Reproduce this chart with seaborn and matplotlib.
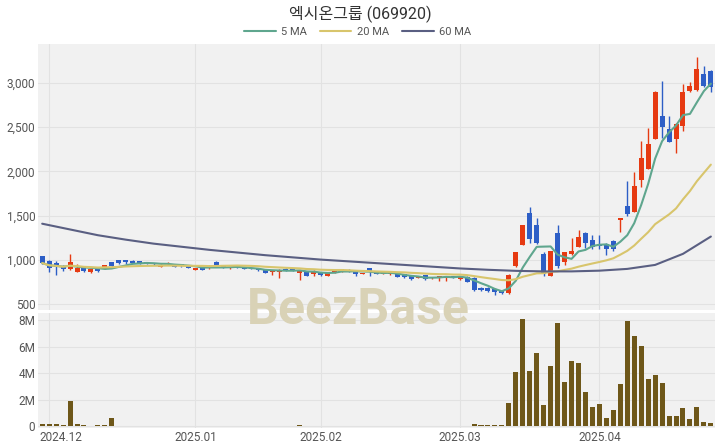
import numpy as np
import pandas as pd
import matplotlib
matplotlib.use("Agg")
import matplotlib.pyplot as plt
import matplotlib.transforms as mtransforms
import seaborn as sns
from matplotlib.ticker import FuncFormatter

# =====================================================
# DATA
# =====================================================

title = "엑시온그룹 (069920)"

holidays = ["2024-12-25", "2025-01-01", "2025-01-27", "2025-01-28",
            "2025-01-29", "2025-01-30", "2025-03-03"]
dates = pd.bdate_range("2024-11-29", "2025-04-23")
dates = dates[~dates.isin(pd.to_datetime(holidays))]

opens = [
    1045, 989, 966, 935, 898, 870, 915, 860, 920, 898, 975, 1000, 995, 990, 985, 975, 965, 925, 950, 945, 950, 935,
    888, 915, 905, 980, 925, 905, 925, 915, 912, 905, 895, 862, 870, 900, 898, 855, 870, 840,
    865, 825, 855, 870, 890, 865, 845, 905, 853, 842, 842, 853, 842, 831, 797, 831, 797, 797, 797, 819, 785, 808,
    800, 690, 690, 670, 650,
    627, 930, 1170, 1532, 1396, 1068, 820, 1300, 977, 1068, 1150, 1300, 1226, 1180, 1181, 1215, 1452, 1611,
    1543, 1905, 2029, 2368, 2629, 2482, 2368, 2516, 2910, 2922, 3104, 3138,
]
highs = [
    1050, 995, 990, 945, 1065, 955, 920, 900, 925, 945, 980, 1005, 1000, 995, 990, 980, 968, 955, 975, 950, 955, 940,
    915, 918, 940, 985, 930, 925, 930, 920, 915, 910, 900, 892, 895, 905, 902, 880, 875, 885,
    870, 868, 892, 900, 895, 870, 858, 912, 858, 856, 856, 858, 848, 836, 822, 836, 812, 822, 822, 825, 825, 815,
    805, 700, 700, 680, 655,
    840, 1095, 1400, 1600, 1480, 1090, 1105, 1400, 1095, 1250, 1340, 1320, 1280, 1283, 1190, 1225, 1475, 1894,
    1995, 2346, 2493, 2905, 3024, 2629, 2545, 2990, 3013, 3296, 3194, 3145,
]
lows = [
    960, 870, 835, 880, 890, 865, 862, 850, 870, 895, 925, 960, 950, 965, 960, 950, 945, 920, 945, 920, 925, 905,
    885, 885, 900, 925, 910, 900, 905, 895, 895, 880, 850, 830, 795, 880, 878, 775, 815, 820,
    825, 815, 850, 865, 870, 820, 840, 818, 838, 838, 835, 805, 800, 780, 792, 780, 790, 763, 763, 792, 780, 748,
    655, 650, 640, 600, 615,
    620, 925, 1165, 1192, 1180, 825, 815, 910, 945, 1060, 1145, 1140, 1125, 1124, 1056, 1100, 1320, 1500,
    1540, 1826, 2025, 2365, 2380, 2330, 2210, 2459, 2900, 2910, 2956, 2900,
]
closes = [
    966, 915, 921, 898, 980, 910, 875, 895, 878, 940, 935, 965, 975, 970, 965, 960, 950, 945, 965, 925, 935, 915,
    910, 890, 930, 935, 918, 920, 912, 900, 898, 885, 855, 888, 885, 885, 885, 875, 825, 875,
    831, 865, 887, 896, 876, 842, 853, 878, 842, 853, 853, 808, 808, 785, 819, 785, 808, 819, 819, 797, 819, 752,
    665, 660, 650, 640, 625,
    830, 1090, 1396, 1237, 1192, 842, 1100, 932, 1090, 1102, 1260, 1190, 1150, 1160, 1124, 1124, 1475, 1520,
    1837, 2153, 2312, 2900, 2504, 2335, 2538, 2900, 2968, 3160, 2968, 2956,
]
volumes_m = [
    0.13, 0.13, 0.15, 0.05, 1.92, 0.13, 0.05, 0.03, 0.08, 0.08, 0.59, 0.03, 0.03, 0.02, 0.02, 0.02, 0.02, 0.03,
    0.02, 0.02, 0.02, 0.02,
    0.02, 0.02, 0.02, 0.03, 0.01, 0.01, 0.02, 0.02, 0.02, 0.02, 0.03, 0.03, 0.04, 0.02, 0.02, 0.08, 0.03, 0.04,
    0.03, 0.04, 0.04, 0.03, 0.02, 0.02, 0.03, 0.02, 0.02, 0.02, 0.02, 0.02, 0.03, 0.02, 0.03, 0.02, 0.02, 0.03,
    0.02, 0.02, 0.03, 0.04, 0.13, 0.05, 0.05, 0.10, 0.05,
    1.74, 4.10, 8.05, 4.13, 5.48, 1.58, 4.53, 7.75, 3.32, 4.90, 4.73, 2.57, 1.46, 1.64, 0.60, 1.23, 3.20, 7.95,
    6.80, 6.06, 3.52, 3.85, 3.22, 0.75, 0.75, 1.38, 0.55, 1.40, 0.33, 0.25,
]

# 60 MA at every 4th trading day
ma60_every4 = [1410, 1345, 1280, 1230, 1185, 1150, 1115, 1085, 1055, 1030, 1005, 985, 965,
               945, 925, 905, 890, 878, 872, 872, 880, 900, 945, 1070, 1265]

price_ticks = [500, 1000, 1500, 2000, 2500, 3000]
volume_ticks = [0, 2, 4, 6, 8]

# =====================================================
# FRAMES
# =====================================================

df = pd.DataFrame({
    "date": dates,
    "open": opens,
    "high": highs,
    "low": lows,
    "close": closes,
    "volume": volumes_m,
})
df["pos"] = np.arange(len(df))
df["ma5"] = df["close"].rolling(5, min_periods=1).mean()
df["ma20"] = df["close"].rolling(20, min_periods=1).mean()

ma60_df = pd.DataFrame({
    "pos": df["pos"].values[::4],
    "ma60": ma60_every4,
})

month_first = df.groupby(df["date"].dt.to_period("M"))["pos"].first()
month_first = month_first[month_first.index >= pd.Period("2024-12", "M")]
month_labels = [p.strftime("%Y.%m") for p in month_first.index]

# =====================================================
# STYLE
# =====================================================

sns.set_theme(style="whitegrid")
plt.rcParams["font.family"] = ["Roboto", "Noto Sans CJK KR", "DejaVu Sans"]

RED = "#e63a12"
BLUE = "#2d5ec6"
VOL = "#6e5719"
C5 = "#5fa68e"
C20 = "#d8c56c"
C60 = "#5a5f82"
BG = "#f1f1f1"
GRID = "#e2e2e2"
TXT = "#555555"

fig = plt.figure(figsize=(7.2, 4.48), dpi=100)
ax = fig.add_axes([0.0528, 0.308, 0.9403, 0.594])
axv = fig.add_axes([0.0528, 0.0446, 0.9403, 0.2567], sharex=ax)

# =====================================================
# CANDLES + MOVING AVERAGES
# =====================================================

up = df["close"] >= df["open"]
colors = np.where(up, RED, BLUE)
body = (df["close"] - df["open"]).abs().clip(lower=14)
bottom = df[["open", "close"]].min(axis=1)

ax.vlines(df["pos"], df["low"], df["high"], colors=colors, lw=1, zorder=2)
ax.bar(df["pos"], body, bottom=bottom, width=0.72, color=colors,
       linewidth=0, edgecolor="none", zorder=3)

sns.lineplot(data=df, x="pos", y="ma5", ax=ax, color=C5, lw=1.5, label="5 MA", zorder=4)
sns.lineplot(data=df, x="pos", y="ma20", ax=ax, color=C20, lw=1.5, label="20 MA", zorder=4)
sns.lineplot(data=ma60_df, x="pos", y="ma60", ax=ax, color=C60, lw=1.5, label="60 MA", zorder=4)

handles, labels = ax.get_legend_handles_labels()
ax.get_legend().remove()

# =====================================================
# VOLUME
# =====================================================

axv.bar(df["pos"], df["volume"], width=0.72, color=VOL,
        linewidth=0, edgecolor="none", zorder=3)

# =====================================================
# AXES
# =====================================================

for a in (ax, axv):
    a.set_facecolor(BG)
    a.grid(True, color=GRID, lw=0.8)
    a.set_axisbelow(True)
    for s in a.spines.values():
        s.set_visible(False)
    a.tick_params(length=0, labelsize=8.5, labelcolor=TXT, pad=2)
    a.set_xlabel("")
    a.set_ylabel("")

ax.set_xlim(-0.6, len(df) - 0.4)
ax.set_ylim(436, 3439)
ax.set_yticks(price_ticks)
ax.yaxis.set_major_formatter(FuncFormatter(lambda v, p: f"{v:,.0f}"))
ax.tick_params(axis="x", labelbottom=False)

axv.set_ylim(-0.15, 8.53)
axv.set_yticks(volume_ticks)
axv.set_yticklabels(["0" if v == 0 else f"{v}M" for v in volume_ticks])
axv.set_xticks(month_first.values)
axv.set_xticklabels(month_labels)

# first month label is nudged right so it stays inside the panel
first_lbl = axv.get_xticklabels()[0]
first_lbl.set_transform(first_lbl.get_transform() +
                        mtransforms.ScaledTranslation(12 / 100, 0, fig.dpi_scale_trans))

# =====================================================
# TITLE, LEGEND, WATERMARK
# =====================================================

fig.text(0.5, 0.968, title, ha="center", va="center", fontsize=11.5, color="#333333")

fig.legend(
    handles, labels,
    loc="center",
    bbox_to_anchor=(0.497, 0.928),
    ncol=3,
    frameon=False,
    fontsize=8,
    handlelength=2.8,
    handletextpad=0.5,
    columnspacing=1.2,
    labelcolor=TXT,
)

fig.text(0.497, 0.308, "BeezBase", ha="center", va="center",
         fontsize=36, fontweight="bold", color="#d9d2b6", zorder=10)

fig.savefig("out.png", dpi=100)
